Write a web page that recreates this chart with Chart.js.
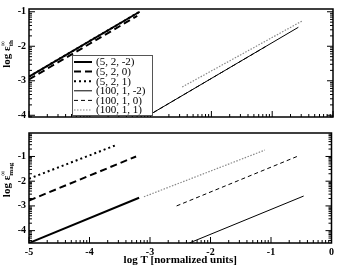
<!DOCTYPE html>
<html><head><meta charset="utf-8">
<script src="https://cdn.jsdelivr.net/npm/chart.js@4.4.0/dist/chart.umd.min.js"></script>
<style>
html,body{margin:0;padding:0;background:#fff;}
#wrap{position:relative;width:337px;height:267px;overflow:hidden;}
.cv{position:absolute;left:0;}
</style></head><body>
<div id="wrap">
<canvas id="c1" class="cv" width="337" height="126" style="top:0"></canvas>
<canvas id="c2" class="cv" width="337" height="143" style="top:124px"></canvas>
</div>
<script>
// ---- data ----
const seriesLabels = ['(5, 2, -2)', '(5, 2, 0)', '(5, 2, 1)', '(100, 1, -2)', '(100, 1, 0)', '(100, 1, 1)'];
const xTicks = [-5, -4, -3, -2, -1, 0];
const topYTicks = [-4, -3, -2, -1];
const botYTicks = [-4, -3, -2, -1];

// top panel: log eps_th (x = log T)
const thX_a = [-5, -3.18],  thY_a = [-2.88, -1.0];   // (5,2,-2)
const thX_b = [-5, -3.22],  thY_b = [-2.96, -1.12];  // (5,2,0)
const thX_c = [-5, -3.18],  thY_c = [-2.88, -1.0];   // (5,2,1)
const thX_d = [-3.05, -0.57], thY_d = [-4.02, -1.45]; // (100,1,-2)
const thX_e = [-3.05, -1.08], thY_e = [-4.02, -1.98]; // (100,1,0)
const thX_f = [-2.48, -0.5],  thY_f = [-3.18, -1.26]; // (100,1,1)

// bottom panel: log eps_mag
const mgX_a = [-5, -3.18],  mgY_a = [-4.5, -2.67];
const mgX_b = [-5, -3.23],  mgY_b = [-2.78, -1.0];
const mgX_c = [-5, -3.54],  mgY_c = [-1.9, -0.52];
const mgX_d = [-2.35, -0.46], mgY_d = [-4.5, -2.6];
const mgX_e = [-2.56, -0.57], mgY_e = [-3.0, -1.0];
const mgX_f = [-3.1, -1.1],   mgY_f = [-2.63, -0.74];

// ---- styles ----
const styles = [
  {c:'#000', w:2, d:[]},
  {c:'#000', w:2, d:[7,4]},
  {c:'#000', w:2, d:[2,3]},
  {c:'#000', w:1, d:[]},
  {c:'#000', w:1, d:[4,3]},
  {c:'#888', w:1.2, d:[1.5,1.5]}
];
const pts = (xs, ys) => xs.map((x, i) => ({x, y: ys[i]}));
function makeSets(list){
  return list.map((p, i) => ({
    label: seriesLabels[i], data: pts(p[0], p[1]),
    borderColor: styles[i].c, borderWidth: styles[i].w, borderDash: styles[i].d,
    pointRadius: 0, fill: false, tension: 0, borderCapStyle: 'butt'
  }));
}
const topSets = makeSets([[thX_a,thY_a],[thX_b,thY_b],[thX_c,thY_c],[thX_d,thY_d],[thX_e,thY_e],[thX_f,thY_f]]);
const botSets = makeSets([[mgX_a,mgY_a],[mgX_b,mgY_b],[mgX_c,mgY_c],[mgX_d,mgY_d],[mgX_e,mgY_e],[mgX_f,mgY_f]]);

const SERIF = '"Liberation Serif", "DejaVu Serif", serif';

// frame + inward log-style ticks
const framePlugin = {
  id: 'frame',
  afterDatasetsDraw(chart) {
    const {ctx, chartArea: a, scales} = chart;
    const xs = scales.x, ys = scales.y;
    ctx.save();
    ctx.strokeStyle = '#000';
    ctx.lineWidth = 1;
    ctx.beginPath();
    const minorSet = (lo, hi) => {
      const out = [];
      for (let d = Math.floor(lo) - 1; d <= Math.ceil(hi); d++) {
        out.push({v: d, major: true});
        for (let k = 2; k <= 9; k++) out.push({v: d + Math.log10(k), major: false});
      }
      return out.filter(t => t.v >= lo - 1e-9 && t.v <= hi + 1e-9);
    };
    minorSet(xs.min, xs.max).forEach(t => {
      const px = xs.getPixelForValue(t.v), L = t.major ? 6 : 3;
      ctx.moveTo(px, a.bottom); ctx.lineTo(px, a.bottom - L);
    });
    minorSet(ys.min, ys.max).forEach(t => {
      const py = ys.getPixelForValue(t.v), L = t.major ? 6 : 3;
      ctx.moveTo(a.left, py); ctx.lineTo(a.left + L, py);
      ctx.moveTo(a.right, py); ctx.lineTo(a.right - L, py);
    });
    ctx.stroke();
    ctx.lineWidth = 1.5;
    ctx.strokeRect(a.left, a.top, a.right - a.left, a.bottom - a.top);
    ctx.restore();
  }
};

// rotated y title with sub/superscript
function yTitlePlugin(sub, cy) {
  return {
    id: 'ytitle',
    afterDraw(chart) {
      const ctx = chart.ctx;
      const main = 'log ε', sup = '∞';
      ctx.save();
      ctx.fillStyle = '#000';
      ctx.translate(0, cy);
      ctx.rotate(-Math.PI / 2);
      ctx.textBaseline = 'alphabetic';
      ctx.font = 'bold 11px ' + SERIF;
      const wm = ctx.measureText(main).width;
      ctx.font = 'bold 7px ' + SERIF;
      const ws = ctx.measureText(sub).width;
      const wsp = ctx.measureText(sup).width;
      const total = wm + Math.max(ws, wsp);
      let x0 = -total / 2;
      ctx.font = 'bold 11px ' + SERIF;
      ctx.fillText(main, x0, 10);
      ctx.font = 'bold 7px ' + SERIF;
      ctx.fillText(sub, x0 + wm, 13);
      ctx.fillText(sup, x0 + wm, 5);
      ctx.restore();
    }
  };
}

const legendPlugin = {
  id: 'boxlegend',
  afterDraw(chart) {
    const ctx = chart.ctx;
    const bx = 72, by = 55, bw = 80, bh = 60;
    ctx.save();
    ctx.fillStyle = '#fff';
    ctx.fillRect(bx, by, bw, bh);
    ctx.strokeStyle = '#555';
    ctx.lineWidth = 1;
    ctx.strokeRect(bx + 0.5, by + 0.5, bw, bh);
    chart.data.datasets.forEach((ds, i) => {
      const y = by + 7 + i * 9.6;
      ctx.beginPath();
      ctx.strokeStyle = ds.borderColor;
      ctx.lineWidth = ds.borderWidth;
      ctx.setLineDash(ds.borderDash);
      ctx.moveTo(bx + 2, y); ctx.lineTo(bx + 20, y);
      ctx.stroke();
      ctx.setLineDash([]);
      ctx.fillStyle = '#000';
      ctx.font = '11px ' + SERIF;
      ctx.textBaseline = 'middle';
      ctx.fillText(ds.label, bx + 24, y + 0.5);
    });
    ctx.restore();
  }
};

const tickFont = {family: SERIF, size: 10, weight: 'bold'};
function yScale(min, max, ticks) {
  return {
    type: 'linear', min, max,
    afterBuildTicks: s => { s.ticks = ticks.map(v => ({value: v})); },
    afterFit: s => { s.width = 29; },
    grid: {display: false, drawTicks: false}, border: {display: false},
    ticks: {color: '#000', font: tickFont, padding: 3, callback: v => String(v)}
  };
}

Chart.defaults.animation = false;

new Chart(document.getElementById('c1'), {
  type: 'line',
  data: {datasets: topSets},
  options: {
    responsive: false, animation: false,
    layout: {padding: {left: 0, right: 4, top: 2, bottom: 2}},
    plugins: {legend: {display: false}, tooltip: {enabled: false}},
    scales: {
      x: {type: 'linear', min: -5, max: 0, display: false},
      y: yScale(-4.05, -0.92, topYTicks)
    }
  },
  plugins: [framePlugin, yTitlePlugin('th', 54), legendPlugin]
});

new Chart(document.getElementById('c2'), {
  type: 'line',
  data: {datasets: botSets},
  options: {
    responsive: false, animation: false,
    layout: {padding: {left: 0, right: 4, top: 0, bottom: 0}},
    plugins: {legend: {display: false}, tooltip: {enabled: false}},
    scales: {
      x: {
        type: 'linear', min: -5, max: 0,
        afterBuildTicks: s => { s.ticks = xTicks.map(v => ({value: v})); },
        afterFit: s => { s.height = 24; },
        grid: {display: false, drawTicks: false}, border: {display: false},
        ticks: {color: '#000', font: tickFont, padding: 3, maxRotation: 0, autoSkip: false, callback: v => String(v)},
        title: {display: true, text: 'log T [normalized units]', color: '#000',
                font: {family: SERIF, size: 11, weight: 'bold'}, padding: {top: 0, bottom: 0}}
      },
      y: yScale(-4.5, -0.05, botYTicks)
    }
  },
  plugins: [framePlugin, yTitlePlugin('mag', 56)]
});
</script>
</body></html>
